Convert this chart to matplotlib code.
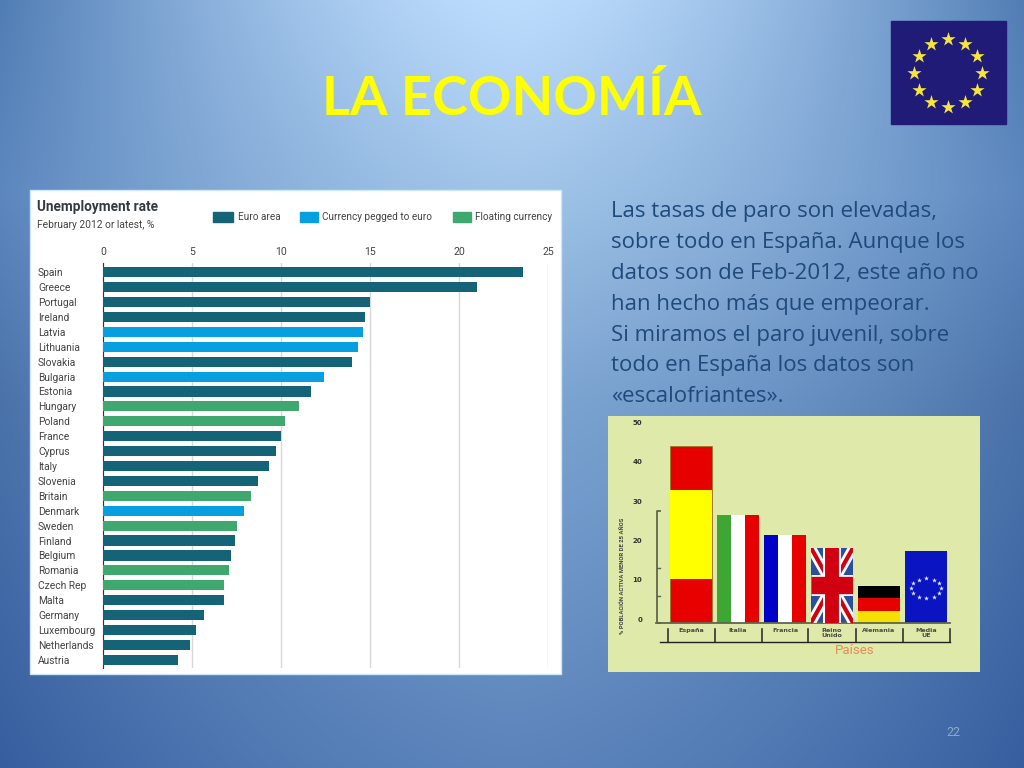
import numpy as np
import matplotlib
matplotlib.use("Agg")
import matplotlib.pyplot as plt
from matplotlib.patches import Rectangle

# Unemployment chart data
countries = ["Spain", "Greece", "Portugal", "Ireland", "Latvia", "Lithuania", "Slovakia",
             "Bulgaria", "Estonia", "Hungary", "Poland", "France", "Cyprus", "Italy",
             "Slovenia", "Britain", "Denmark", "Sweden", "Finland", "Belgium", "Romania",
             "Czech Rep", "Malta", "Germany", "Luxembourg", "Netherlands", "Austria"]
rates = [23.6, 21.0, 15.0, 14.7, 14.6, 14.3, 14.0, 12.4, 11.7, 11.0, 10.2, 10.0, 9.7, 9.3,
         8.7, 8.3, 7.9, 7.5, 7.4, 7.2, 7.1, 6.8, 6.8, 5.7, 5.2, 4.9, 4.2]
groups = ["e", "e", "e", "e", "p", "p", "e", "p", "e", "f", "f", "e", "e", "e",
          "e", "f", "p", "f", "e", "e", "f", "f", "e", "e", "e", "e", "e"]
rate_ticks = [0, 5, 10, 15, 20, 25]
group_colors = {"e": "#156377", "p": "#069fe0", "f": "#3fa86e"}
legend_labels = ["Euro area", "Currency pegged to euro", "Floating currency"]

# Youth unemployment chart data
youth_countries = ["España", "Italia", "Francia", "Reino\nUnido", "Alemania", "Media\nUE"]
youth_rates = [44, 26.5, 21.4, 18.2, 8.5, 17.4]
youth_ticks = [0, 10, 20, 30, 40, 50]

body_lines = ["Las tasas de paro son elevadas,", "sobre todo en España. Aunque los",
              "datos son de Feb-2012, este año no", "han hecho más que empeorar.",
              "Si miramos el paro juvenil, sobre", "todo en España los datos son",
              "«escalofriantes»."]

CHART_FONT = "Roboto"

W, H = 1024, 768
fig = plt.figure(figsize=(10.24, 7.68), dpi=100)

# Slide background
bg = fig.add_axes([0, 0, 1, 1], zorder=0)
bg.set_xlim(0, W)
bg.set_ylim(H, 0)
bg.axis("off")
yy, xx = np.mgrid[0:H, 0:W]
stops_y = [0, 190, 400, 768]
center = [np.interp(yy, stops_y, s) for s in ([188, 160, 125, 92], [220, 196, 165, 132], [253, 232, 210, 187])]
side = [np.interp(yy, stops_y, s) for s in ([80, 92, 75, 55], [125, 135, 115, 95], [180, 190, 170, 160])]
t = (np.abs(xx - W / 2) / (W / 2)) ** 1.5
img = np.dstack([c + (s - c) * t for c, s in zip(center, side)]) / 255
bg.imshow(img, extent=(0, W, H, 0), aspect="auto", zorder=0)

bg.text(512, 99, "LA ECONOMÍA", color="#ffff00", fontsize=39, fontweight="bold",
        family="Lato", ha="center", va="center")

# EU flag, top right
bg.add_patch(Rectangle((891, 21), 115, 103, color="#211b78", zorder=1))
angles = np.deg2rad(np.arange(0, 360, 30))
bg.scatter(948 + 34 * np.sin(angles), 73 - 34 * np.cos(angles), marker="*", s=115,
           color="#f5e63c", linewidths=0, zorder=2)

for i, line in enumerate(body_lines):
    bg.text(611, 212 + i * 30.8, line, color="#1f4a7c", fontsize=16, family="Open Sans",
            ha="left", va="center")
bg.text(953, 733, "22", color="#8fa8c8", fontsize=9, family=CHART_FONT, ha="center", va="center")

# Panels
bg.add_patch(Rectangle((30, 190), 531, 484, facecolor="white", edgecolor="#cfe6f7", lw=1, zorder=1))
bg.add_patch(Rectangle((608, 416), 372, 256, facecolor="#dfe9aa", edgecolor="none", zorder=1))

# Unemployment chart header and legend
bg.text(37, 207, "Unemployment rate", color="#333a40", fontsize=9.8, fontweight="bold",
        family=CHART_FONT, ha="left", va="center")
bg.text(37, 225, "February 2012 or latest, %", color="#444", fontsize=7.4, family=CHART_FONT,
        ha="left", va="center")
for (x0, x1, tx), key, label in zip([(213, 233, 238), (300, 318, 322), (453, 471, 475)],
                                    ["e", "p", "f"], legend_labels):
    bg.add_patch(Rectangle((x0, 212), x1 - x0, 10, color=group_colors[key], zorder=2))
    bg.text(tx, 217, label, color="#444", fontsize=7.2, family=CHART_FONT, ha="left", va="center")

# Unemployment bars
ax = fig.add_axes([103 / W, 1 - 668 / H, 445 / W, 405 / H], zorder=2)
ax.patch.set_alpha(0)
pos = np.arange(len(countries))
ax.barh(pos, rates, height=0.68, color=[group_colors[g_] for g_ in groups], zorder=3)
ax.set_xlim(0, 25)
ax.set_ylim(26.55, -0.62)
ax.set_yticks(pos)
ax.set_yticklabels(countries, ha="left", family=CHART_FONT, fontsize=7.4, color="#444")
ax.tick_params(axis="y", length=0, pad=46.8)
ax.xaxis.tick_top()
ax.set_xticks(rate_ticks)
ax.set_xticklabels([str(v) for v in rate_ticks], family=CHART_FONT, fontsize=7.6, color="#444")
ax.tick_params(axis="x", length=0, pad=4)
ax.grid(axis="x", color="#d8d8d8", lw=1, zorder=1)
for s_ in ["top", "right", "bottom"]:
    ax.spines[s_].set_visible(False)
ax.spines["left"].set_color("#333")
ax.spines["left"].set_linewidth(0.8)

# Youth unemployment chart, bars painted as flags
ax2 = fig.add_axes([656 / W, 1 - 623 / H, 294 / W, 207 / H], zorder=2)
ax2.patch.set_alpha(0)
ax2.set_xlim(-0.745, 5.51)
ax2.set_ylim(-1, 51.7)
BASE = -1
BW = 0.9

# Spain
ax2.bar(0, youth_rates[0] - BASE, BW, bottom=BASE, color="#e60000", edgecolor="#8a7a20", lw=0.5)
ax2.bar(0, 22.6, BW, bottom=10.2, color="#ffff00")


def stripes(i, colors):
    w = BW / 3
    for k, c in enumerate(colors):
        ax2.bar(i + (k - 1) * w, youth_rates[i] - BASE, w, bottom=BASE, color=c)


stripes(1, ["#3fa535", "white", "#e60000"])
stripes(2, ["#0000c8", "white", "#e60000"])

# UK, lines clipped to the bar
uk = ax2.bar(3, youth_rates[3] - BASE, BW, bottom=BASE, color="#2a4fa0")[0]
x0, x1, y0, y1 = 3 - BW / 2, 3 + BW / 2, BASE, youth_rates[3]
ym = (y0 + y1) / 2
for xs, ys, c, lw in [([x0, x1], [y0, y1], "white", 7), ([x0, x1], [y1, y0], "white", 7),
                      ([x0, x1], [y0, y1], "#d00010", 3), ([x0, x1], [y1, y0], "#d00010", 3),
                      ([3, 3], [y0, y1], "white", 13), ([x0, x1], [ym, ym], "white", 15),
                      ([3, 3], [y0, y1], "#d00010", 10), ([x0, x1], [ym, ym], "#d00010", 12.5)]:
    ln, = ax2.plot(xs, ys, color=c, lw=lw, solid_capstyle="butt", zorder=3)
    ln.set_clip_path(uk)

# Germany
g_h = (youth_rates[4] - BASE) / 3
for k, c in enumerate(["#f5e000", "#e60000", "#000000"]):
    ax2.bar(4, g_h, BW, bottom=BASE + k * g_h, color=c)

# EU
ax2.bar(5, youth_rates[5] - BASE, BW, bottom=BASE, color="#0a14c0")
ax2.scatter(5 + 0.32 * np.sin(angles), 7.9 + 2.5 * np.cos(angles), marker="*", s=14,
            color="#dfe6ff", linewidths=0, zorder=3)

ax2.set_xticks(range(len(youth_countries)))
ax2.set_xticklabels(youth_countries, fontsize=4.6, fontweight="bold", color="#4a4a40",
                    linespacing=1.05, va="top")
ax2.tick_params(axis="x", length=0, pad=3.5)
ax2.set_yticks(youth_ticks)
ax2.set_yticklabels([str(v) for v in youth_ticks], fontsize=5, fontweight="bold", color="#333")
ax2.tick_params(axis="y", length=0, pad=10)
for s_ in ["top", "right", "left"]:
    ax2.spines[s_].set_visible(False)
ax2.spines["bottom"].set_color("#5f6650")
ax2.spines["bottom"].set_linewidth(1.3)

# Bracket on the left and separators below the axis
bg.plot([660, 656.7, 656.7, 660], [511, 511, 623, 623], color="#5f6650", lw=1.3, zorder=3)
for py in [567.7, 596]:
    bg.plot([656.7, 660], [py, py], color="#5f6650", lw=1, zorder=3)
bg.plot([660, 950], [642, 642], color="#222", lw=1, zorder=3)
for px in [667.7, 715, 761.7, 808.3, 855.7, 902.7, 950]:
    bg.plot([px, px], [629, 642], color="#222", lw=1.1, zorder=3)
bg.text(622, 576, "% POBLACIÓN ACTIVA MENOR DE 25 AÑOS", rotation=90, fontsize=4.2, color="#444",
        family=CHART_FONT, fontweight="bold", ha="center", va="center", zorder=3)
bg.text(855, 650, "Países", color="#e58a5a", fontsize=9.5, family=CHART_FONT, ha="center", va="center",
        zorder=3)
bg.set_xlim(0, W)
bg.set_ylim(H, 0)

fig.savefig("out.png", dpi=100)
